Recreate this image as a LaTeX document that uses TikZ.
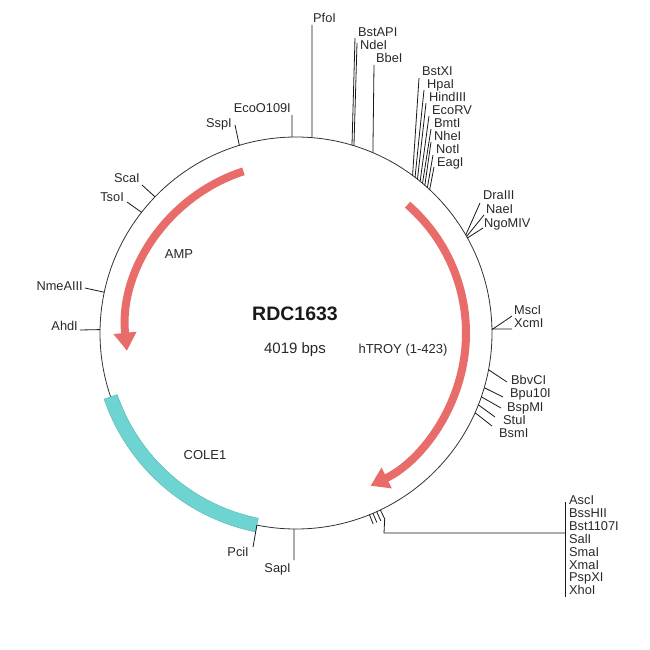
\documentclass[tikz,border=0pt]{standalone}
\usepackage{fontspec}
\setmainfont{Liberation Sans}
\usetikzlibrary{calc,arrows.meta}
\definecolor{ampred}{RGB}{232,108,106}
\definecolor{colecyan}{RGB}{110,212,210}
\definecolor{txt}{RGB}{40,40,40}
\begin{document}
\begin{tikzpicture}[x=1pt,y=-1pt,
  lbl/.style={font=\fontsize{12.8}{13}\selectfont, inner sep=0pt, text=txt},
  feat/.style={font=\fontsize{13}{14}\selectfont, inner sep=0pt, text=txt},
  tick/.style={draw=black!90, line width=0.8pt},
  bb/.style={anchor=base west},
  be/.style={anchor=base east}]
\useasboundingbox (0,0) rectangle (650,650);
\fill[white] (0,0) rectangle (650,650);
\coordinate (C) at (296,333);
% backbone
\draw[black!80, line width=0.8pt] (C) circle[radius=196];
% COLE1
\filldraw[fill=colecyan, draw=colecyan!85!black, line width=0.4pt]
  ($(C)+(101.5:203)$) arc[start angle=101.5,end angle=161,radius=203]
  -- ($(C)+(161:189)$) arc[start angle=161,end angle=101.5,radius=189] -- cycle;
% arrows
\draw[ampred, line width=8pt, -{Triangle[width=22pt,length=18pt]}]
  ($(C)+(-108:170)$) arc[start angle=-108,end angle=-186,radius=170];
\draw[ampred, line width=8pt, -{Triangle[width=22pt,length=18pt]}]
  ($(C)+(-49:170)$) arc[start angle=-49,end angle=64,radius=170];
% centre texts
\node[font=\fontsize{19.5}{20}\selectfont\bfseries, text=black!90, inner sep=0pt] (title) at (295,314) {RDC1633};
\node[font=\fontsize{15}{16}\selectfont, text=txt, inner sep=0pt] (bps) at (295,350) {4019 bps};
\node[feat] (amp) at (179,254) {AMP};
\node[feat] (htroy) at (403,350) {hTROY (1-423)};
\node[feat] (cole) at (205,455) {COLE1};
% site coordinates on circle
\foreach \n/\a in {PfoI/-85.3, EcoO109I/-91.2, BstAPI/-73.4, NdeI/-72.8, BbeI/-66.9,
  BstXI/-53.5, HpaI/-52.6, HindIII/-51.7, EcoRV/-50.7, BmtI/-49.8, NheI/-48.9, NotI/-47.9, EagI/-47,
  DraIII/-30, NaeI/-29.5, NgoMIV/-29, MscI/-1, XcmI/-1.2,
  BbvCI/10.8, Bpu10I/16.2, BspMI/19, StuI/21.5, BsmI/24,
  SapI/90.6, PciI/101.5, AhdI/-179, NmeAIII/-168, TsoI/-142, ScaI/-136, SspI/-106.8}
  {\coordinate (s\n) at ($(C)+(\a:196)$);}
% labels (top)
\node[lbl,bb] (nPfoI) at (313,22.5) {PfoI};
\node[lbl,bb] (nBstAPI) at (358,36.5) {BstAPI};
\node[lbl,bb] (nNdeI) at (360,49.5) {NdeI};
\node[lbl,bb] (nBbeI) at (376,62.5) {BbeI};
\node[lbl,be] (nEcoO) at (291,112.5) {EcoO109I};
\node[lbl,be] (nSspI) at (232,127.5) {SspI};
\coordinate (pPfoI) at (312,25);
\coordinate (pBstAPI) at (355,38);
\coordinate (pNdeI) at (357,43);
\coordinate (pBbeI) at (374,65);
\coordinate (pEcoO109I) at (292,115);
\coordinate (pSspI) at (235,125);
% BstXI group
\foreach \n/\x/\y/\lx/\ly in {BstXI/419/78/422/71, HpaI/424/90/427/84, HindIII/426/103/429/97,
  EcoRV/429/116/432/110, BmtI/431/129/434/123, NheI/431/142/434/136, NotI/433/155/436/149, EagI/434/167/437/162}
  {\node[lbl,bb] (n\n) at (\lx,\ly+4.5) {\n};
   \coordinate (p\n) at (\x,\y);}
% DraIII group
\foreach \n/\x/\y/\lx/\ly in {DraIII/480/203/483/195, NaeI/484/215/486/209, NgoMIV/483/228/484/223}
  {\node[lbl,bb] (n\n) at (\lx,\ly+4.5) {\n};
   \coordinate (p\n) at (\x,\y);}
% MscI
\node[lbl,bb] (nMscI) at (514,314.5) {MscI};
\node[lbl,bb] (nXcmI) at (514,327.5) {XcmI};
\coordinate (pMscI) at (512,316);
\coordinate (pXcmI) at (512,329);
% BbvCI group
\foreach \n/\x/\y/\lx/\ly in {BbvCI/507/382/511/380, Bpu10I/503/397/510/393, BspMI/501/408/507/407,
  StuI/495/417/503/420, BsmI/492/426/499/433}
  {\node[lbl,bb] (n\n) at (\lx,\ly+4.5) {\n};
   \coordinate (p\n) at (\x,\y);}
% left side
\node[lbl,be] (nScaI) at (140,182.5) {ScaI};
\node[lbl,be] (nTsoI) at (124,201.5) {TsoI};
\node[lbl,be] (nNmeAIII) at (83,290.5) {NmeAIII};
\node[lbl,be] (nAhdI) at (78,330.5) {AhdI};
\coordinate (pScaI) at (142,185);
\coordinate (pTsoI) at (127,202);
\coordinate (pNmeAIII) at (85,288);
\coordinate (pAhdI) at (80,330);
% bottom
\node[lbl,be] (nPciI) at (249,556.5) {PciI};
\node[lbl,be] (nSapI) at (291,572.5) {SapI};
\coordinate (pPciI) at (253,547);
\coordinate (pSapI) at (294,560);
% connectors
\foreach \n in {PfoI,EcoO109I,BstAPI,NdeI,BbeI,SspI,BstXI,HpaI,HindIII,EcoRV,BmtI,NheI,NotI,EagI,
  DraIII,NaeI,NgoMIV,MscI,XcmI,BbvCI,Bpu10I,BspMI,StuI,BsmI,ScaI,TsoI,NmeAIII,AhdI,PciI,SapI}
  {\draw[tick] (s\n) -- (p\n);}
% AscI group
\foreach \a in {64.5,65.7,66.9,68}
  {\draw[tick] ($(C)+(\a:196)$) -- ($(C)+(\a:206)$);}
\coordinate (gA) at ($(C)+(64.5:206)$);
\coordinate (gB) at (384,533);
\coordinate (gC) at (565,533);
\coordinate (vT) at (565,502);
\coordinate (vB) at (565,597);
\draw[tick] (gA) -- (gB) -- (gC);
\draw[tick] (vT) -- (vB);
\foreach \n/\i in {AscI/0, BssHII/1, Bst1107I/2, SalI/3, SmaI/4, XmaI/5, PspXI/6, XhoI/7}
  {\node[lbl,bb] (n\n) at (569,{504.5+12.9*\i}) {\n};}
\end{tikzpicture}
\end{document}
